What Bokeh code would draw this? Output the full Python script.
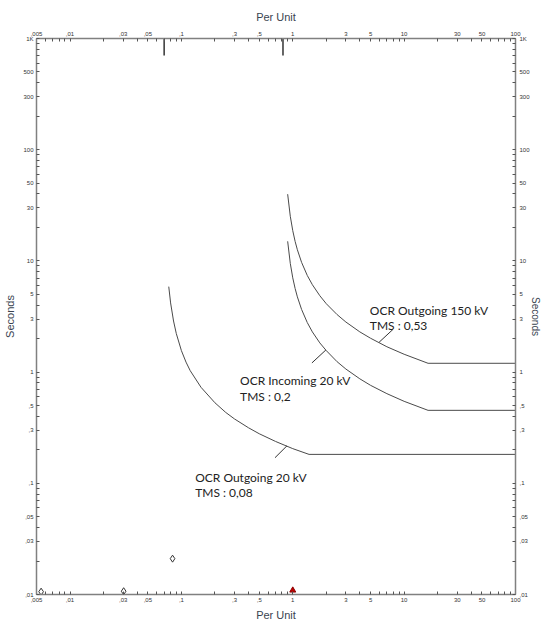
from bokeh.plotting import figure
from bokeh.models import LogAxis, FixedTicker, Range1d, ColumnDataSource
from bokeh.embed import file_html
from bokeh.resources import INLINE
from bokeh.core.properties import value

# ---- axis ticks ----
x_major = [0.005, 0.01, 0.03, 0.05, 0.1, 0.3, 0.5, 1, 3, 5, 10, 30, 50, 100]
x_labels = [",005", ",01", ",03", ",05", ",1", ",3", ",5", "1", "3", "5", "10", "30", "50", "100"]
x_minor = [0.006, 0.007, 0.008, 0.009, 0.02, 0.04, 0.06, 0.07, 0.08, 0.09,
           0.2, 0.4, 0.6, 0.7, 0.8, 0.9, 2, 4, 6, 7, 8, 9, 20, 40, 60, 70, 80, 90]
y_major = [0.01, 0.03, 0.05, 0.1, 0.3, 0.5, 1, 3, 5, 10, 30, 50, 100, 300, 500, 1000]
y_labels = [",01", ",03", ",05", ",1", ",3", ",5", "1", "3", "5", "10", "30", "50", "100", "300", "500", "1K"]
y_minor = [0.02, 0.04, 0.06, 0.07, 0.08, 0.09, 0.2, 0.4, 0.6, 0.7, 0.8, 0.9,
           2, 4, 6, 7, 8, 9, 20, 40, 60, 70, 80, 90, 200, 400, 600, 700, 800, 900]

# ---- relay curves (per unit vs seconds) ----
out20_pu = [0.077, 0.08, 0.085, 0.09, 0.1, 0.11, 0.12, 0.15, 0.2, 0.25, 0.3, 0.4, 0.5, 0.7, 1.0, 1.4, 100]
out20_s = [5.87, 4.19, 2.88, 2.22, 1.56, 1.23, 1.03, 0.73, 0.53, 0.434, 0.379, 0.316, 0.279, 0.238, 0.205, 0.182, 0.182]

inc20_pu = [0.9, 0.95, 1.0, 1.05, 1.1, 1.2, 1.35, 1.5, 1.75, 2, 2.5, 3, 4, 5, 7, 10, 16.4, 100]
inc20_s = [15.0, 9.50, 7.04, 5.65, 4.75, 3.66, 2.79, 2.30, 1.83, 1.56, 1.24, 1.065, 0.87, 0.76, 0.64, 0.546, 0.453, 0.453]

out150_pu = [0.9, 0.95, 1.0, 1.05, 1.1, 1.2, 1.35, 1.5, 1.75, 2, 2.5, 3, 4, 5, 7, 10, 16.4, 100]
out150_s = [39.8, 25.2, 18.7, 14.97, 12.6, 9.70, 7.40, 6.11, 4.86, 4.12, 3.29, 2.82, 2.30, 2.015, 1.69, 1.447, 1.20, 1.20]

# pickup marks at top
pickup_pu = [0.07, 0.817]
pickup_top = [1000, 1000]
pickup_bot = [703, 703]

# curve labels
label_text = ["OCR Outgoing 150 kV", "TMS : 0,53", "OCR Incoming 20 kV", "TMS : 0,2",
              "OCR Outgoing 20 kV", "TMS : 0,08"]
label_x = [4.92, 4.92, 0.3365, 0.3365, 0.133, 0.133]
label_y = [3.565, 2.598, 0.839, 0.605, 0.1139, 0.0823]

# label leader lines
lead_x0 = [5.96, 1.486, 0.6925]
lead_y0 = [1.855, 1.209, 0.1698]
lead_x1 = [7.96, 1.984, 0.8875]
lead_y1 = [2.427, 1.582, 0.2175]

# small markers near bottom
diamond_pu = [0.0055, 0.0303, 0.0833]
diamond_s = [0.0106, 0.0107, 0.021]
tri_pu = [1.0]
tri_s = [0.0109]

p = figure(width=543, height=623, x_axis_type="log", y_axis_type="log",
           x_range=Range1d(0.005, 100), y_range=Range1d(0.01, 1000),
           output_backend="svg", toolbar_location=None,
           min_border_left=36, min_border_right=27, min_border_top=38, min_border_bottom=28,
           outline_line_color=None, background_fill_color="white", border_fill_color="white")
p.xgrid.visible = False
p.ygrid.visible = False

p.add_layout(LogAxis(), "above")
p.add_layout(LogAxis(), "right")

def style(ax, major, labels, minor, title, lab_standoff, title_standoff, title_size):
    ax.ticker = FixedTicker(ticks=major, minor_ticks=minor)
    ax.major_label_overrides = {k: v for k, v in zip(major, labels)}
    ax.major_tick_in = 3
    ax.major_tick_out = 0
    ax.minor_tick_in = 3
    ax.minor_tick_out = 0
    ax.axis_line_color = "#808080"
    ax.axis_line_width = 1.5
    ax.major_tick_line_color = "#555555"
    ax.minor_tick_line_color = "#555555"
    ax.major_label_text_font = "Liberation Sans"
    ax.major_label_text_font_size = "6px"
    ax.major_label_text_color = "#333333"
    ax.major_label_standoff = lab_standoff
    ax.axis_label = title
    ax.axis_label_text_font = "Liberation Sans"
    ax.axis_label_text_font_size = title_size
    ax.axis_label_text_font_style = "normal"
    ax.axis_label_text_color = "#3a4450"
    ax.axis_label_standoff = title_standoff

for ax in p.below:
    style(ax, x_major, x_labels, x_minor, "Per Unit", 3, 4, "11px")
for ax in p.above:
    style(ax, x_major, x_labels, x_minor, "Per Unit", 3, 6, "11px")
for ax in p.left:
    style(ax, y_major, y_labels, y_minor, "Seconds", 3, 4, "11px")
for ax in p.right:
    style(ax, y_major, y_labels, y_minor, "Seconds", 4, -3, "10px")

curve_color = "#4a4a4a"
p.line(out20_pu, out20_s, line_color=curve_color, line_width=1)
p.line(inc20_pu, inc20_s, line_color=curve_color, line_width=1)
p.line(out150_pu, out150_s, line_color=curve_color, line_width=1)

p.segment(x0=pickup_pu, y0=pickup_top, x1=pickup_pu, y1=pickup_bot, line_color="#333333", line_width=1.5)
p.segment(x0=lead_x0, y0=lead_y0, x1=lead_x1, y1=lead_y1, line_color="#333333", line_width=1)

src = ColumnDataSource(dict(x=label_x, y=label_y, t=label_text))
p.text(x="x", y="y", text="t", source=src, text_font=value("Lato"), text_font_size="12px",
       text_baseline="alphabetic", text_align="left", text_color="#222222")

p.scatter(diamond_pu, diamond_s, marker="diamond", size=7, fill_color=None, line_color="#333333", line_width=1)
p.scatter(tri_pu, tri_s, marker="triangle", size=6, fill_color="#c00000", line_color="#8b0000")

open("out.html", "w").write(file_html(p, INLINE))
